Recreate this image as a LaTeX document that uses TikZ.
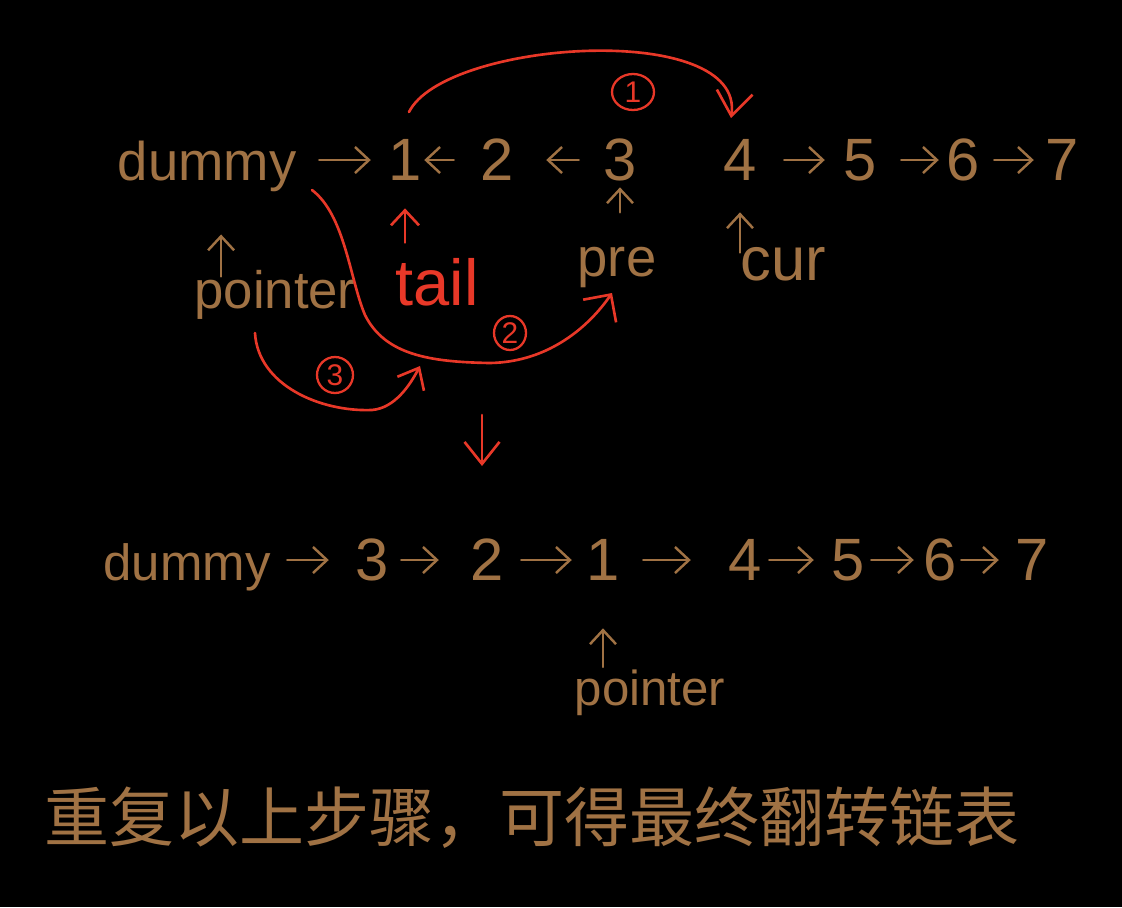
\documentclass[tikz,border=0pt]{standalone}
\usepackage{fontspec}
\setmainfont{Liberation Sans}
\newfontfamily\cjk{Noto Sans CJK SC}
\usetikzlibrary{arrows.meta,calc,shapes.geometric}
\definecolor{ink}{RGB}{160,114,68}
\definecolor{redink}{RGB}{232,56,40}
\newcommand{\zwbox}[1]{\makebox[0pt]{#1}}
\begin{document}
\begin{tikzpicture}[x=0.02cm, y=-0.02cm,
  lst/.style={text=ink, inner sep=0pt, text height=0.8cm, text depth=0pt, font=\fontsize{34}{34}\selectfont},
  word/.style={text=ink, inner sep=0pt, anchor=base},
  barrow/.style={draw=ink, line width=1.4pt, line cap=round, line join=round, -{Straight Barb[length=0.28cm,width=0.52cm]}},
  rarrow/.style={draw=redink, line width=1.5pt, line cap=round, line join=round, -{Straight Barb[length=0.3cm,width=0.56cm]}},
  circ/.style={ellipse, draw=redink, line width=1.3pt, text=redink, inner sep=0pt, font=\fontsize{17}{17}\selectfont}
]
\fill[black] (0,0) rectangle (1122,907);
\useasboundingbox (0,0) rectangle (1122,907);

% ---- top row ----
\node[lst, font=\fontsize{31}{31}\selectfont] (tdum) at (207,160) {\zwbox{dummy}};
\node[lst] (t1) at (405,160) {\zwbox{1}};
\node[lst] (t2) at (497,160) {\zwbox{2}};
\node[lst] (t3) at (620,160) {\zwbox{3}};
\node[lst] (t4) at (740,160) {\zwbox{4}};
\node[lst] (t5) at (860,160) {\zwbox{5}};
\node[lst] (t6) at (963,160) {\zwbox{6}};
\node[lst] (t7) at (1062,160) {\zwbox{7}};

\draw[barrow, shorten <=2.22cm, shorten >=0.66cm] (tdum) -- (t1);
\draw[barrow, shorten <=0.84cm, shorten >=0.36cm] (t2) -- (t1);
\draw[barrow, shorten <=0.80cm, shorten >=0.96cm] (t3) -- (t2);
\draw[barrow, shorten <=0.86cm, shorten >=0.68cm] (t4) -- (t5);
\draw[barrow, shorten <=0.80cm, shorten >=0.46cm] (t5) -- (t6);
\draw[barrow, shorten <=0.60cm, shorten >=0.54cm] (t6) -- (t7);

% ---- labels under top row ----
\node[word, text=redink, font=\fontsize{37}{37}\selectfont] (tail) at (437,305) {tail};
\node[word, font=\fontsize{31}{31}\selectfont] (pre) at (617,276) {pre};
\node[word, font=\fontsize{35}{35}\selectfont] (cur) at (783,280) {cur};
\node[word, font=\fontsize{30}{30}\selectfont] (ptr) at (275,308) {pointer};

\draw[rarrow, shorten <=0.3cm, shorten >=0.56cm] (t1 |- tail.north) -- (t1.south);
\draw[barrow, shorten <=0.68cm, shorten >=0.14cm] (t3 |- pre.north) -- (t3.south);
\draw[barrow, shorten <=-0.12cm, shorten >=0.64cm] (t4 |- cur.north) -- (t4.south);
\draw[barrow] ($(ptr.north west)+(27,7)$) -- ($(ptr.north west)+(27,-35)$);

% ---- red annotations ----
\coordinate (c1s) at (409,112);
\coordinate (c1e) at (731,118);
\draw[rarrow, -{Straight Barb[length=0.48cm,width=0.72cm]}] (c1s) .. controls (445,40) and (745,20) .. (c1e);
\node[circ, minimum width=0.84cm, minimum height=0.72cm] (k1) at (633,92) {1};

\coordinate (c2s) at (312,190);
\coordinate (c2e) at (612,293);
\draw[rarrow, -{Straight Barb[length=0.4cm,width=0.8cm]}] (c2s) .. controls (345,215) and (350,280) .. (365,315)
  .. controls (385,355) and (430,362) .. (490,363)
  .. controls (550,362) and (590,325) .. (c2e);
\node[circ, minimum width=0.64cm, minimum height=0.68cm] (k2) at (510,333) {2};

\coordinate (c3s) at (255,333);
\coordinate (c3e) at (420,366);
\draw[rarrow, -{Straight Barb[length=0.36cm,width=0.6cm]}] (c3s) .. controls (258,385) and (320,412) .. (372,410)
  .. controls (395,408) and (410,385) .. (c3e);
\node[circ, minimum width=0.72cm, minimum height=0.72cm] (k3) at (335,375) {3};

\coordinate (dtop) at (482,415);
\coordinate (dbot) at (482,466);
\draw[rarrow, -{Straight Barb[length=0.44cm,width=0.7cm]}] (dtop) -- (dbot);

% ---- bottom row ----
\node[lst, font=\fontsize{29}{29}\selectfont] (bdum) at (187,560) {\zwbox{dummy}};
\node[lst] (b3) at (372,560) {\zwbox{3}};
\node[lst] (b2) at (487,560) {\zwbox{2}};
\node[lst] (b1) at (603,560) {\zwbox{1}};
\node[lst] (b4) at (745,560) {\zwbox{4}};
\node[lst] (b5) at (848,560) {\zwbox{5}};
\node[lst] (b6) at (940,560) {\zwbox{6}};
\node[lst] (b7) at (1032,560) {\zwbox{7}};

\draw[barrow, shorten <=1.98cm, shorten >=0.84cm] (bdum) -- (b3);
\draw[barrow, shorten <=0.56cm, shorten >=0.94cm] (b3) -- (b2);
\draw[barrow, shorten <=0.66cm, shorten >=0.60cm] (b2) -- (b1);
\draw[barrow, shorten <=0.78cm, shorten >=1.06cm] (b1) -- (b4);
\draw[barrow, shorten <=0.46cm, shorten >=0.66cm] (b4) -- (b5);
\draw[barrow, shorten <=0.44cm, shorten >=0.50cm] (b5) -- (b6);
\draw[barrow, shorten <=0.40cm, shorten >=0.64cm] (b6) -- (b7);

\node[word, font=\fontsize{28}{28}\selectfont] (bptr) at (650,705) {pointer};
\draw[barrow, shorten <=0.04cm, shorten >=0.96cm] (b1 |- bptr.north) -- (b1.south);

% ---- caption ----
\node[text=ink, inner sep=0pt, font=\cjk\fontsize{37}{37}\selectfont] (cap) at (532,818) {重复以上步骤，可得最终翻转链表};
\end{tikzpicture}
\end{document}
